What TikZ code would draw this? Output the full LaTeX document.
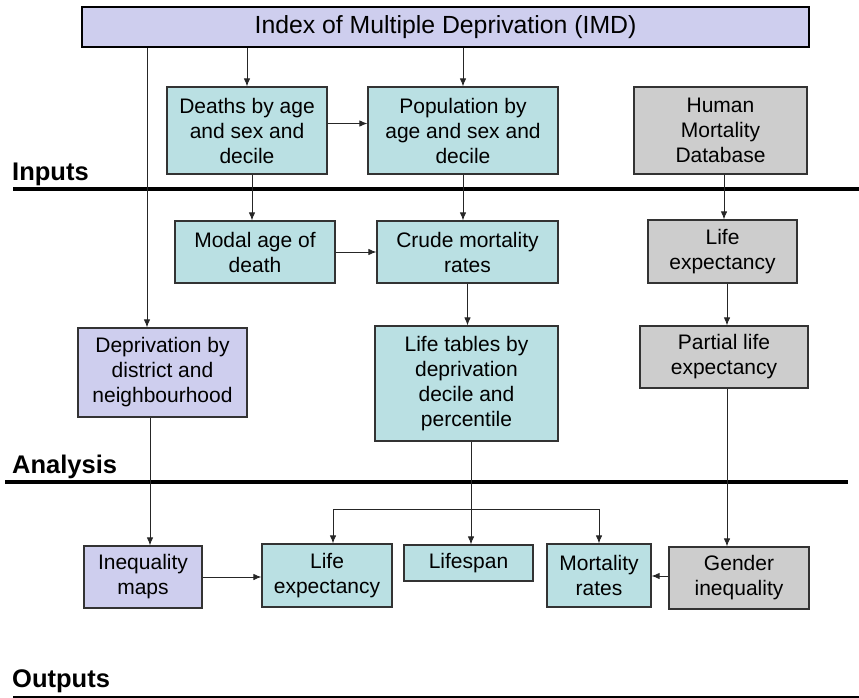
\documentclass[tikz,border=0pt]{standalone}
\usepackage{fontspec}
\setmainfont{Liberation Sans}
\usetikzlibrary{positioning,arrows.meta}
\definecolor{imdpurple}{RGB}{206,206,238}
\definecolor{calcteal}{RGB}{186,224,227}
\definecolor{hmdgrey}{RGB}{205,205,205}

\begin{document}
\begin{tikzpicture}[x=1pt,y=-1pt,
	box/.style={draw=black!80,line width=1.2pt,align=center,inner sep=0pt,
		font=\fontsize{21}{25}\selectfont},
	pbox/.style={box,fill=imdpurple},
	tbox/.style={box,fill=calcteal},
	gbox/.style={box,fill=hmdgrey},
	conn/.style={line width=0.9pt,black!85,-{Latex[length=8pt,width=6.5pt]}},
	stage/.style={anchor=base west,inner sep=0pt,
		font=\bfseries\fontsize{25.5}{28}\selectfont},
	rule/.style={line width=3.5pt}]
	\useasboundingbox (0,0) rectangle (859,698);
	% inputs
	\node[pbox,draw=black,line width=2pt,minimum width=727pt,minimum height=40pt,
		font=\fontsize{24.8}{28}\selectfont] (imd) at (445.5,27)
		{Index of Multiple Deprivation (IMD)};
	\node[tbox,minimum width=160pt,minimum height=87pt] (dth) at (247,130.5)
		{Deaths by age\\and sex and\\decile};
	\node[tbox,minimum width=190pt,minimum height=87pt] (pop) at (463,130.5)
		{Population by\\age and sex and\\decile};
	\node[gbox,minimum width=173pt,minimum height=87pt] (hmd) at (720.5,130.5)
		{Human\\Mortality\\Database};
	% analysis
	\node[tbox,minimum width=160pt,minimum height=62pt] (mod) at (255,252)
		{Modal age of\\death};
	\node[tbox,minimum width=181pt,minimum height=62pt] (cmr) at (467.5,252)
		{Crude mortality\\rates};
	\node[gbox,minimum width=149pt,minimum height=63pt] (lex) at (722.5,251.5)
		{Life\\expectancy};
	\node[pbox,minimum width=169pt,minimum height=89pt] (dep) at (162.5,372.5)
		{Deprivation by\\district and\\neighbourhood};
	\node[tbox,minimum width=183pt,minimum height=115pt] (ltb) at (466.5,383.5)
		{Life tables by\\deprivation\\decile and\\percentile};
	\node[gbox,minimum width=168pt,minimum height=62pt] (ple) at (724,357)
		{Partial life\\expectancy};
	% outputs
	\node[pbox,minimum width=118pt,minimum height=62pt] (inq) at (143,577)
		{Inequality\\maps};
	\node[tbox,minimum width=130pt,minimum height=63pt] (olex) at (327,575.5)
		{Life\\expectancy};
	\node[tbox,minimum width=129pt,minimum height=36pt] (lsp) at (468.5,563)
		{Lifespan};
	\node[tbox,minimum width=104pt,minimum height=63pt] (mrt) at (599,575.5)
		{Mortality\\rates};
	\node[gbox,minimum width=140pt,minimum height=62pt] (gnd) at (739,578)
		{Gender\\inequality};
	% stages
	\node[stage] (inl) at (12,180) {Inputs};
	\node[stage] (anl) at (12,473) {Analysis};
	\node[stage] (oul) at (12,687) {Outputs};
	\draw[rule] (13,189) -- (859,189);
	\draw[rule] (5,482) -- (848,482);
	\draw[line width=2pt] (13,697) -- (859,697);
	% connectors
	\coordinate (lft) at (147,0);
	\draw[conn] (imd.south -| lft) -- (dep.north -| lft);
	\foreach \X in {dth,pop}
		\draw[conn] (imd.south -| \X.north) -- (\X.north);
	\draw[conn] ([yshift=7pt]dth.east) -- ([yshift=7pt]dth.east -| pop.west);
	\draw[conn] ([xshift=5pt]dth.south) -- ([xshift=5pt]dth.south |- mod.north);
	\draw[conn] (pop.south) -- (pop.south |- cmr.north);
	\draw[conn] (mod.east) -- (cmr.west);
	\draw[conn] ([xshift=3.5pt]hmd.south) -- ([xshift=3.5pt]hmd.south |- lex.north);
	\draw[conn] (cmr.south) -- (cmr.south |- ltb.north);
	\draw[conn] ([xshift=4.5pt]lex.south) -- ([xshift=4.5pt]lex.south |- ple.north);
	\draw[conn] ([xshift=-12.5pt]dep.south) -- ([xshift=-12.5pt]dep.south |- inq.north);
	\draw[conn] ([xshift=4.5pt]ltb.south) -- ([xshift=4.5pt]ltb.south |- lsp.north);
	\coordinate (fork) at ([xshift=4.5pt]ltb.south |- 0,509);
	\draw[conn] (fork) -| ([xshift=6pt]olex.north);
	\draw[conn] (fork) -| (mrt.north);
	\draw[conn] ([xshift=3pt]ple.south) -- ([xshift=3pt]ple.south |- gnd.north);
	\draw[conn] (inq.east) -- (inq.east -| olex.west);
	\draw[conn] ([yshift=2pt]gnd.west) -- ([yshift=2pt]gnd.west -| mrt.east);
\end{tikzpicture}
\end{document}
